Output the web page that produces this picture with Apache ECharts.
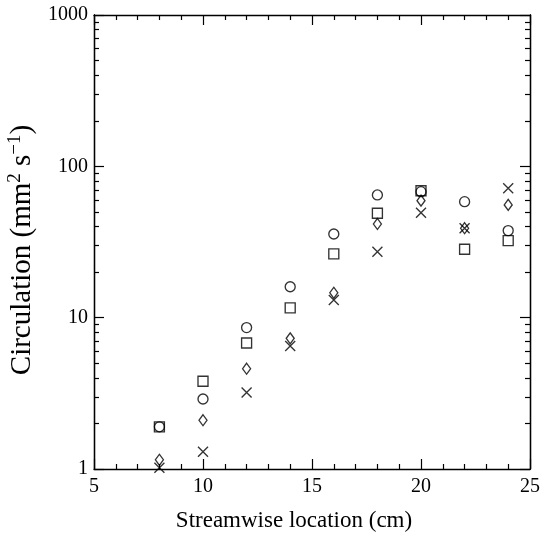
<!DOCTYPE html>
<html>
<head>
<meta charset="utf-8">
<script src="https://cdn.jsdelivr.net/npm/echarts@6/dist/echarts.min.js"></script>
<style>html,body{margin:0;padding:0;background:#fff}#c{width:541px;height:534px}</style>
</head>
<body>
<div id="c"></div>
<script>
const locations = [8, 10, 12, 14, 16, 18, 20, 22, 24];
const circles  = [1.9, 2.9, 8.6, 16.0, 35.7, 64.7, 68, 58.4, 37.6];
const squares  = [1.9, 3.8, 6.8, 11.6, 26.4, 49, 69, 28.3, 32.3];
const diamonds = [1.15, 2.1, 4.6, 7.3, 14.6, 41.6, 59.3, 39, 55.6];
const crosses  = [1.02, 1.3, 3.2, 6.5, 13.1, 27.3, 49.4, 39, 71.6];
const yMajor = [1, 10, 100, 1000];
const yMinor = [2,3,4,5,6,7,8,9,20,30,40,50,60,70,80,90,200,300,400,500,600,700,800,900];

const font = 'Liberation Serif';
const pair = arr => locations.map((x, i) => [x, arr[i]]);
const mk = (name, data, symbol, size) => ({
  name, type: 'scatter', data: pair(data), symbol, symbolSize: size,
  itemStyle: { color: 'rgba(0,0,0,0)', borderColor: '#000', borderWidth: 1.35 },
  emphasis: { disabled: true }
});
const yBase = (pos, show, ticks, len) => ({
  type: 'log', logBase: 10, min: 1, max: 1000, position: pos,
  axisLine: { show: true, lineStyle: { color: '#000', width: 1.3 } },
  axisTick: { show: true, inside: true, length: len, customValues: ticks, lineStyle: { color: '#000', width: 1.2 } },
  axisLabel: show ? { show: true, customValues: yMajor, formatter: v => String(v), color: '#000', fontFamily: font, fontSize: 20, margin: 6 } : { show: false },
  splitLine: { show: false }, minorTick: { show: false }
});
const xBase = (pos, show) => ({
  type: 'value', min: 5, max: 25, interval: 5, position: pos,
  axisLine: { show: true, onZero: false, lineStyle: { color: '#000', width: 1.3 } },
  axisTick: { show: true, inside: true, length: 10, lineStyle: { color: '#000', width: 1.2 } },
  minorTick: { show: true, splitNumber: 5, length: 5, lineStyle: { color: '#000', width: 1.2 } },
  axisLabel: { show: show, color: '#000', fontFamily: font, fontSize: 20, margin: 8 },
  splitLine: { show: false }, minorSplitLine: { show: false }
});
const chart = echarts.init(document.getElementById('c'), null, { renderer: 'canvas' });
const xa = xBase('bottom', true);
xa.name = 'Streamwise location (cm)';
xa.nameLocation = 'middle';
xa.nameGap = 40;
xa.nameTextStyle = { color: '#000', fontFamily: font, fontSize: 23, padding: [0, 36, 0, 0] };
const ya = yBase('left', true, yMajor, 10);
ya.name = '{a|Circulation (mm}{s|2}{a| s}{s|\u22121}{a|)}';
ya.nameLocation = 'middle';
ya.nameGap = 47;
ya.nameTextStyle = { padding: [0, 16, 0, 0], rich: {
  a: { color: '#000', fontFamily: font, fontSize: 29, lineHeight: 32, verticalAlign: 'bottom' },
  s: { color: '#000', fontFamily: font, fontSize: 19, lineHeight: 32, verticalAlign: 'top' }
} };
chart.setOption({
  animation: false,
  grid: { left: 94, right: 11, top: 15, bottom: 65, containLabel: false, outerBoundsMode: 'none' },
  xAxis: [xa, xBase('top', false)],
  yAxis: [ya, yBase('left', false, yMinor, 5), yBase('right', false, yMajor, 10), yBase('right', false, yMinor, 5)],
  series: [
    mk('circle', circles, 'circle', 10),
    mk('square', squares, 'rect', 10),
    mk('diamond', diamonds, 'diamond', [8, 11]),
    mk('cross', crosses, 'path://M0,0L10,10M10,0L0,10', 10)
  ]
});
</script>
</body>
</html>
